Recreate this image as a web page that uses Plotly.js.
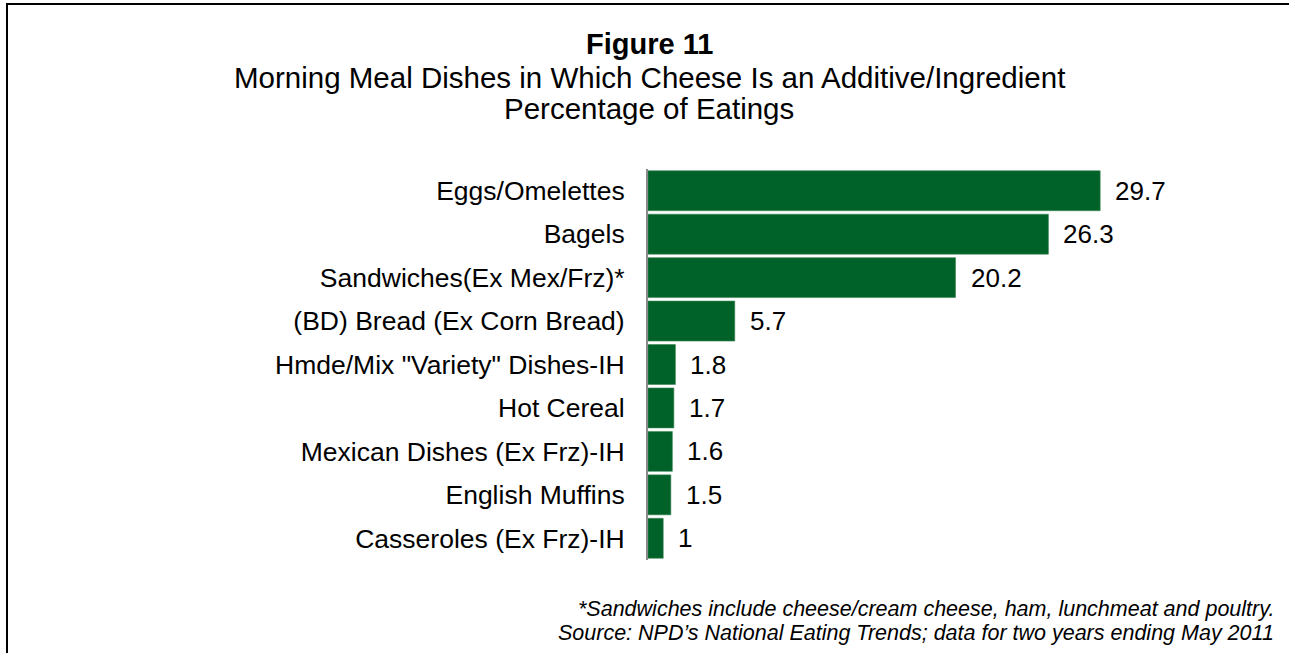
<!DOCTYPE html>
<html>
<head>
<meta charset="utf-8">
<script src="https://cdn.plot.ly/plotly-3.0.1.min.js"></script>
<style>
  html, body { margin: 0; padding: 0; background: #ffffff; overflow: hidden; }
  #chart { position: absolute; left: 0; top: 0; width: 1289px; height: 653px; }
  #frame { position: absolute; left: 6px; top: 3px; width: 2000px; height: 2000px;
           border-left: 2px solid #000; border-top: 2px solid #000; pointer-events: none; z-index: 5; }
</style>
</head>
<body>
<div id="chart"></div>
<div id="frame"></div>
<script>
const categories = [
  "Eggs/Omelettes",
  "Bagels",
  "Sandwiches(Ex Mex/Frz)*",
  "(BD) Bread (Ex Corn Bread)",
  "Hmde/Mix \"Variety\" Dishes-IH",
  "Hot Cereal",
  "Mexican Dishes (Ex Frz)-IH",
  "English Muffins",
  "Casseroles (Ex Frz)-IH"
];
const values = [29.7, 26.3, 20.2, 5.7, 1.8, 1.7, 1.6, 1.5, 1];
const valueLabels = ["29.7", "26.3", "20.2", "5.7", "1.8", "1.7", "1.6", "1.5", "1"];

const titleLine1 = "<b>Figure 11</b>";
const titleLine2 = "Morning Meal Dishes in Which Cheese Is an Additive/Ingredient";
const titleLine3 = "Percentage of Eatings";
const footnote1 = "*Sandwiches include cheese/cream cheese, ham, lunchmeat and poultry.";
const footnote2 = "Source: NPD\u2019s National Eating Trends; data for two years ending May 2011";

const FONT = "Liberation Sans, Arial, Helvetica, sans-serif";

const trace = {
  type: "bar",
  orientation: "h",
  x: values,
  y: categories,
  marker: { color: "#006228", line: { color: "#3d8656", width: 0.6 } },
  hoverinfo: "none"
};

const valueAnnotations = values.map((v, i) => ({
  x: v, y: categories[i], xref: "x", yref: "y",
  text: valueLabels[i], showarrow: false,
  xanchor: "left", yanchor: "middle", xshift: 13,
  font: { family: FONT, size: 26, color: "#000" }
}));

const textAnnotations = [
  { text: titleLine1, y: 1.319, size: 29 },
  { text: titleLine2, y: 1.234, size: 29.5 },
  { text: titleLine3, y: 1.156, size: 29.5 }
].map(a => ({
  text: a.text, xref: "paper", yref: "paper",
  x: (649 - 648) / 609, y: a.y, xanchor: "center", yanchor: "middle",
  showarrow: false, font: { family: FONT, size: a.size, color: "#000" }
}));

const footAnnotations = [
  { text: footnote1, y: (560 - 609) / 391 },
  { text: footnote2, y: (560 - 633) / 391 }
].map(a => ({
  text: "<i>" + a.text + "</i>", xref: "paper", yref: "paper",
  x: (1276 - 648) / 609, y: a.y, xanchor: "right", yanchor: "middle",
  showarrow: false, font: { family: FONT, size: 21.5, color: "#000" }
}));

const layout = {
  width: 1289, height: 653,
  margin: { l: 648, r: 32, t: 169, b: 93, pad: 0 },
  paper_bgcolor: "#ffffff", plot_bgcolor: "#ffffff",
  showlegend: false,
  bargap: 0.08,
  font: { family: FONT, color: "#000" },
  xaxis: {
    range: [0, 40], showgrid: false, zeroline: false, showline: false,
    showticklabels: false, ticks: "", fixedrange: true
  },
  yaxis: {
    type: "category", autorange: "reversed",
    showgrid: false, zeroline: false,
    showline: true, linecolor: "#8a8a8a", linewidth: 2,
    ticks: "", ticklabelstandoff: 16,
    tickfont: { family: FONT, size: 26.5, color: "#000" },
    fixedrange: true
  },
  annotations: valueAnnotations.concat(textAnnotations, footAnnotations)
};

Plotly.newPlot("chart", [trace], layout, { displayModeBar: false, staticPlot: true });
</script>
</body>
</html>
